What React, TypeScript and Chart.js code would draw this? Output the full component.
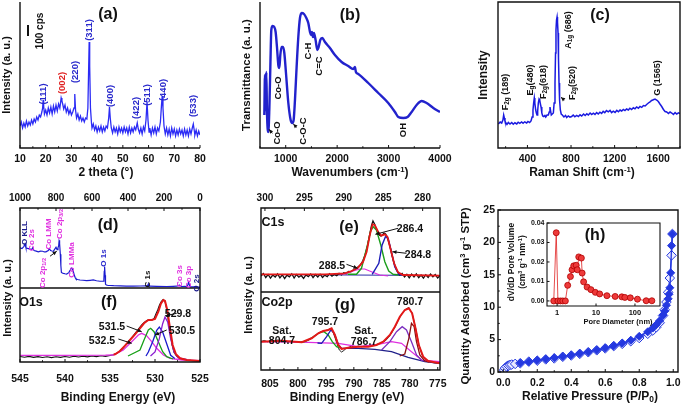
import React, { useEffect, useRef } from "react";
import { Chart, registerables } from "chart.js";
Chart.register(...registerables);

const FONT = '"Liberation Sans", Arial, Helvetica, sans-serif';
const INK = "#111";
type Pt = [number, number];

// ---------------- (a) XRD: 2theta (deg), intensity (a.u.)
const xrdScan: Pt[] = [
  [10,22],[10.5,26],[11,20],[11.5,25],[12,21],[12.5,27],[13,22],[13.5,26],[14,23],[14.5,28],[15,24],[15.5,29],[16,26],[16.5,31],[17,28],[17.5,33],[18,31],[18.5,36],
  [18.8,40],[19,48],[19.2,42],[19.5,34],[20,38],[20.5,33],[21,40],[21.5,35],[22,41],[22.5,34],[23,42],[23.5,36],[24,43],[24.5,37],[25,44],[25.5,40],
  [26,50],[26.3,47],[26.6,44],[27,39],[27.5,43],[28,36],[28.5,40],[29,34],[29.5,38],[30,33],[30.5,36],[31,40],[31.3,54],[31.6,38],[32,30],[32.5,34],
  [33,28],[33.5,32],[34,27],[34.5,30],[35,26],[35.5,30],[36,29],[36.4,40],[36.7,80],[36.9,106],[37.1,82],[37.4,40],[37.8,25],[38,20],[38.5,24],[39,18],
  [39.5,22],[40,16],[40.5,21],[41,17],[41.5,22],[42,16],[42.5,21],[43,17],[43.5,22],[44,20],[44.5,30],[44.8,41],[45.1,30],[45.5,20],[46,15],[46.5,21],
  [47,16],[47.5,20],[48,14],[48.5,21],[49,16],[49.5,20],[50,15],[50.5,21],[51,16],[51.5,20],[52,14],[52.5,21],[53,15],[53.5,20],[54,16],[54.5,21],
  [55,18],[55.6,25],[56,19],[56.5,15],[57,20],[57.5,14],[58,21],[58.5,17],[59,28],[59.4,46],[59.8,27],[60.2,16],[60.5,20],[61,13],[61.5,20],[62,15],
  [62.5,21],[63,14],[63.5,20],[64,17],[64.6,26],[65,42],[65.3,52],[65.6,40],[66,22],[66.5,14],[67,20],[67.5,13],[68,19],[68.5,12],[69,20],[69.5,14],
  [70,19],[70.5,12],[71,18],[71.5,13],[72,19],[72.5,14],[73,18],[73.5,12],[74,19],[74.5,13],[75,18],[75.5,12],[76,19],[76.5,14],[77,20],[77.4,24],
  [77.8,17],[78,13],[78.5,18],[79,12],[79.5,17],[80,13]
];
const xrdTicks = [10, 20, 30, 40, 50, 60, 70, 80];

// ---------------- (b) FTIR: wavenumber (cm-1), transmittance (a.u.)
const ftirSpectrum: Pt[] = [
  [584,33],[597,73],[610,38],[623,76],[636,35],[662,16],[681,38],[701,81],[720,118],[746,122],[778,121],[804,116],[830,101],[856,83],[876,80],
  [895,93],[921,101],[947,101],[973,95],[1005,75],[1051,45],[1096,28],[1128,25],[1154,28],[1180,48],[1212,81],[1245,111],[1277,130],[1310,135],
  [1355,134],[1401,130],[1439,125],[1472,116],[1491,113],[1510,116],[1530,111],[1549,115],[1581,108],[1614,98],[1640,101],[1672,108],[1711,110],
  [1763,106],[1860,100],[1957,93],[2087,86],[2216,82],[2313,79],[2346,81],[2365,76],[2411,74],[2605,65],[2800,55],[2994,45],[3124,36],[3189,31],
  [3286,30],[3370,31],[3448,36],[3545,43],[3643,47],[3740,45],[3870,40],[4000,36]
];
const ftirTicks = [1000, 2000, 3000, 4000];

// ---------------- (c) Raman: shift (cm-1), intensity
const ramanSpectrum: Pt[] = [
  [133,24],[150,26],[164,25],[175,28],[182,33],[188,30],[194,27],[203,25],[212,23.5],[225,25.5],[240,24],[256,25.5],[270,23.8],[285,25.2],[302,24],
  [315,25.8],[330,24.6],[347,26],[360,24.8],[375,26.2],[393,25],[405,26.5],[420,25.4],[433,27],[443,31],[451,38],[457,45],[463,50],[468,45],[476,38],
  [482,35],[488,33],[494,37],[500,45],[507,49],[513,48],[519,44],[525,41],[532,35],[540,32],[550,31.5],[560,32.5],[568,31],[580,33],[592,33],[600,36],
  [607,41],[613,37],[619,33],[628,34],[638,35],[645,45],[653,65],[658,95],[662,118],[667,128],[672,131],[676,126],[681,115],[685,90],[690,65],[695,48],
  [702,38],[710,34],[720,33],[735,31],[750,32.5],[760,30.5],[775,32],[790,30.8],[806,31.5],[820,33],[835,31.2],[852,32.6],[868,31.4],[883,33.2],[898,32],
  [915,34],[930,32.5],[945,34.2],[959,33],[975,35],[990,33.4],[1005,34.8],[1020,33.6],[1035,35.4],[1050,34],[1065,35.8],[1081,34.6],[1095,36.6],
  [1110,35.4],[1125,37.4],[1142,36.2],[1158,37.6],[1172,35.4],[1188,36.8],[1204,35.6],[1220,37.6],[1235,36.2],[1250,38],[1265,37],[1280,38.6],
  [1295,37.4],[1310,39],[1326,38],[1340,39.8],[1356,38.4],[1372,40.2],[1387,39.2],[1402,41],[1418,39.8],[1433,41.6],[1449,40.6],[1464,42.4],[1480,42],
  [1494,43.5],[1510,45],[1525,46.2],[1540,47.5],[1555,48.2],[1571,49],[1586,48],[1601,46.5],[1616,44],[1632,41.5],[1648,38.5],[1663,36.5],[1678,36],
  [1694,34.5],[1709,36],[1724,35],[1740,33.6],[1755,35.4],[1770,34],[1785,35.2],[1800,34.5]
];
const ramanTicks = [400, 800, 1200, 1600];

// ---------------- (d) XPS survey: binding energy (eV), intensity
const surveyScan: Pt[] = [
  [1000,39.7],[989,39],[978,41.3],[972,43.7],[967,39.7],[958,39.2],[948,38.7],[935,38],[930,39.7],[922,37],[910,36.5],[898,35.7],[886,36.4],[874,36.3],
  [865,35.6],[856,35.7],[843,37],[837,39],[830,37],[822,36.6],[815,36.3],[806,38.7],[800,40.3],[794,38],[789,39.7],[785,42],[783,46.3],[781,47.5],
  [779,44],[776,33.3],[773,22],[770,15],[765,14.4],[759,14],[750,13.6],[741,13.3],[734,14],[728,15],[722,17],[719,18.3],[715,19.3],[711,19],[707,17.5],
  [704,16],[698,12],[693,9.5],[689,8.3],[680,7.8],[667,7.3],[650,7],[630,6.7],[610,7],[593,7.3],[575,6.5],[556,6],[545,6],[537,6],[534,8],[532,16],
  [531,20.7],[529,21],[527,12],[525,3],[520,2.2],[510,1.7],[500,1.7],[480,1.5],[444,1.3],[410,1.1],[370,1],[330,1.2],[296,1.3],[290,2],[287,3.3],
  [284,1.5],[278,1],[240,0.9],[185,0.7],[150,0.9],[130,1],[120,1.6],[115,2.3],[110,1.4],[102,0.7],[85,0.8],[74,0.7],[68,2],[63,5],[59,2.5],[55,0.4],
  [35,0.3],[25,0.8],[19,0.3],[0,0]
];
const surveyTicks = [1000, 800, 600, 400, 200, 0];

// ---------------- (f) O1s: binding energy (eV), intensity
const o1sRaw: Pt[] = [
  [545,5.5],[544.5,4.8],[544,5.6],[543.5,4.6],[543,5.4],[542.5,4.5],[542,5.2],[541.5,4.4],[541,5.3],[540.5,4.6],[540,5.5],[539.5,4.7],[539,5.8],
  [538.5,5],[538,5.7],[537.5,5.1],[537,6],[536.5,5.4],[536,6.2],[535.5,5.6],[535,6.5],[534.6,7.2],[534.2,9],[533.9,11],[533.6,13.5],[533.3,16.5],
  [533,19.5],[532.7,23],[532.4,26.5],[532.1,30],[531.8,33.5],[531.5,37],[531.2,39.5],[530.9,41.5],[530.6,42.5],[530.3,42],[530.1,43.5],[529.9,48],
  [529.7,52],[529.5,57],[529.3,60.5],[529.1,62.5],[528.9,61],[528.7,53],[528.5,40],[528.3,28],[528.1,17],[527.9,10],[527.6,6],[527.2,3.5],[526.8,2.5],
  [526.4,2],[526,1.6],[525.5,1.3],[525,1.2]
];
const o1sFit: Pt[] = [
  [534.6,7.4],[534.44,7.7],[533.89,11],[533.33,16.3],[532.78,22],[532.22,27.7],[531.67,33.7],[531.22,38.7],[530.74,42],[530.37,42],[530.0,43],
  [529.63,50.3],[529.33,58.7],[529.07,62],[528.89,61],[528.63,51.7],[528.33,33.7],[528.04,17],[527.67,7.7],[527.22,3.7],[526.48,2],[525,1]
];
const o1sPeak5325: Pt[] = [[545,6.7],[540,6.7],[535.5,6.8],[534.63,7],[533.52,12],[532.59,20.3],[531.85,27],[531.48,28.7],[530.93,26.3],[530.37,20.3],[529.81,13.7],[529.07,7],[528.33,3.7],[527,2],[525,1.3]];
const o1sPeak5315: Pt[] = [[533,6],[531.67,12],[531.22,22],[530.74,32],[530.48,33.7],[530.11,30.3],[529.63,20.3],[529.15,10.3],[528.7,5.3],[528,3]];
const o1sPeak5305: Pt[] = [[531,6],[530.74,10],[530.26,20.3],[529.81,31.7],[529.52,35],[529.15,30],[528.7,18.3],[528.26,6.7],[527.8,3.5]];
const o1sPeak5298: Pt[] = [[530.5,6],[530.0,10],[529.52,23.3],[529.15,38.3],[528.89,45],[528.59,40],[528.26,23.3],[527.89,10],[527.41,4],[526.5,2.5]];
const o1sTicks = [545, 540, 535, 530, 525];

// ---------------- (e) C1s
const c1sRaw: Pt[] = [
  [300.5,16],[300.2,18.5],[299.9,14.5],[299.6,17.5],[299.3,13.8],[299,17],[298.7,15],[298.4,18],[298.1,14.2],[297.8,17.2],[297.5,13.5],[297.2,16.8],
  [296.9,15.2],[296.6,18.2],[296.3,14],[296,17.5],[295.7,14.8],[295.4,16.5],[295.1,13.6],[294.8,17],[294.5,15.4],[294.2,18],[293.9,14.4],[293.6,17.4],
  [293.3,15],[293,17.8],[292.7,14.6],[292.4,16.9],[292.1,15.3],[291.8,18.3],[291.5,15.8],[291.2,17.6],[290.9,16.4],[290.6,18.6],[290.3,17],[290,19.2],
  [289.7,18.3],[289.4,20.5],[289.1,20.2],[288.8,22],[288.5,23],[288.2,25],[287.9,27],[287.6,31],[287.3,37],[287,46],[286.7,58],[286.5,66],[286.3,71],
  [286.1,68],[285.9,63],[285.7,60],[285.5,57],[285.3,56],[285.1,57],[284.9,59],[284.7,58],[284.5,55],[284.3,50],[284.1,44],[283.9,37],[283.7,31],
  [283.5,26],[283.3,22],[283.1,19.5],[282.9,17],[282.6,18.5],[282.3,15],[282,17.6],[281.7,14.2],[281.4,17.8],[281.1,15],[280.8,18.2],[280.5,14.4],
  [280.2,17],[279.9,13.8],[279.6,17.3],[279.3,14.6],[279,18],[278.7,15.2],[278.4,17.4],[278.1,14],[277.8,16.5]
];
const c1sFit: Pt[] = [
  [300.5,17.7],[296.6,17.7],[292.4,17.7],[289.9,18.7],[289.0,21],[288.2,24.3],[287.55,30.3],[287.1,40.3],[286.7,57],[286.36,67.7],[286.07,67],
  [285.65,60.3],[285.23,56.3],[284.8,57.7],[284.47,55.3],[284.04,42],[283.62,28.7],[283.12,19.7],[282.48,17],[277.84,16.3]
];
const c1sPeak2864: Pt[] = [[289.5,17.7],[288.39,17.7],[287.76,23.7],[287.1,43.7],[286.62,60.3],[286.28,65.3],[285.86,62],[285.31,47],[284.8,30.3],[284.3,21],[283.75,17.7],[283,17]];
const c1sPeak2848: Pt[] = [[286.4,17.7],[285.56,28.7],[285.14,47],[284.72,55.3],[284.38,53.7],[283.96,40.3],[283.54,25.3],[283.03,17.7],[282.5,17]];
const c1sPeak2885: Pt[] = [[290.5,17.8],[289.9,18],[288.81,21],[287.97,23],[287.34,23],[286.49,20.3],[285.44,17],[284.38,16]];
const c1sBackground: Pt[] = [[300.5,17.5],[277.84,16.5]];
const c1sTicks = [300, 295, 290, 285, 280];

// ---------------- (g) Co2p
const co2pRaw: Pt[] = [
  [806.6,28.5],[806,29.5],[805.4,28.2],[804.8,29.8],[804.2,28.8],[803.6,30],[803,29.2],[802.4,29.6],[801.8,28.4],[801.2,28.8],[800.6,27.8],[800,28.4],
  [799.4,27.5],[798.8,28.6],[798.2,29.5],[797.6,31.5],[797,33.8],[796.4,36.5],[795.8,38.4],[795.2,39.2],[794.6,40.2],[794.2,41.5],[793.8,39],[793.4,33],
  [793,26],[792.6,20],[792.2,18],[791.8,19.5],[791.4,21.5],[791,22.5],[790.4,23.8],[789.8,22.8],[789.2,24],[788.6,23.2],[788,24.2],[787.4,23.6],
  [786.8,24.8],[786.2,25.2],[785.6,26.2],[785,27.4],[784.4,29],[783.8,32.5],[783.2,37.5],[782.6,43.5],[782,50.5],[781.4,56.5],[780.8,60.5],[780.2,62.5],
  [779.6,57],[779,43],[778.4,26],[777.8,15],[777.2,10.5],[776.6,8.5],[776,7.5],[775.4,7],[774.6,6.8]
];
const co2pFit: Pt[] = [
  [806.6,28.3],[802.9,29.3],[799.3,27.7],[797.55,31.7],[796.36,36.7],[795.47,39],[794.58,40],[793.98,41.7],[793.39,35],[792.79,25],[792.2,21],[791.0,22.3],
  [789.22,23.3],[787.43,23.3],[785.95,25],[784.75,28.3],[783.56,35],[782.67,43.3],[781.78,53.3],[780.89,60],[780.17,61.7],[779.58,56.7],[778.98,41.7],
  [778.39,25],[777.61,13.3],[776.72,9],[774.64,6.7]
];
const co2pPeak797: Pt[] = [[799.5,28],[798.74,28.3],[797.25,33.3],[796.06,37.7],[795.35,38.3],[794.58,35],[793.86,28.3],[793.09,23.3],[792.5,22]];
const co2pPeak7957: Pt[] = [[796.5,27],[795.77,26.7],[794.87,33.3],[794.1,40],[793.5,36.7],[792.79,25.7],[792.2,21.7]];
const co2pPeak781: Pt[] = [[785.05,20],[783.56,28.3],[782.37,38.3],[781.36,43.3],[780.59,40],[779.7,28.3],[778.8,15],[777.91,10],[777,8.5]];
const co2pPeak7795: Pt[] = [[781.8,14],[780.89,16],[780.17,31.7],[779.7,46.7],[779.22,43.3],[778.8,28.3],[778.21,15],[777.31,9],[776.5,8]];
const co2pSatellite: Pt[] = [[806.6,28.3],[798.15,27.7],[792.79,26.7],[789.22,23.3],[785.65,25.7],[783.27,28.3],[781.48,26.7],[779.7,18.3],[777.91,10],[774.64,8.3]];
const co2pBackground: Pt[] = [[792.2,21.7],[789.22,21.7],[786.24,20.7],[783.27,18.3],[780.3,12.7],[777.31,8.3],[774.64,6.7]];
const co2pTicks = [805, 800, 795, 790, 785, 780, 775];

// ---------------- (h) N2 isotherm and pore size distribution
const isoAdsorption: Pt[] = [
  [0.005,0.3],[0.01,0.6],[0.02,0.85],[0.03,1.0],[0.04,1.1],[0.05,1.15],[0.07,1.25],[0.1,1.35],[0.15,1.6],[0.2,1.75],[0.25,1.95],[0.3,2.1],[0.35,2.35],
  [0.4,2.55],[0.45,2.8],[0.5,3.05],[0.55,3.35],[0.6,3.65],[0.65,4.0],[0.7,4.35],[0.75,4.75],[0.8,5.25],[0.85,5.9],[0.88,6.4],[0.9,6.9],[0.92,7.6],
  [0.94,8.7],[0.95,9.6],[0.96,10.8],[0.97,12.3],[0.98,14.5],[0.99,18.0],[0.995,21.3]
];
const isoDesorption: Pt[] = [
  [0.995,21.3],[0.99,19.5],[0.985,15.3],[0.98,13.0],[0.975,12.0],[0.97,11.3],[0.96,10.3],[0.95,9.4],[0.94,8.8],[0.92,7.9],[0.9,7.3],[0.88,6.8],
  [0.85,6.2],[0.8,5.5],[0.75,4.9],[0.7,4.45],[0.65,4.05],[0.6,3.7],[0.55,3.4],[0.5,3.1],[0.45,2.85],[0.4,2.6],[0.35,2.4],[0.3,2.2],[0.25,2.0],
  [0.2,1.8],[0.15,1.6],[0.1,1.4]
];
const isoXTicks = [0, 0.2, 0.4, 0.6, 0.8, 1.0];
const isoYTicks = [0, 5, 10, 15, 20, 25];
const poreDistribution: Pt[] = [
  [0.82,0],[0.95,0.035],[1.05,0],[1.22,0],[1.4,0],[1.63,0],[1.87,0.008],[2.2,0.0125],[2.42,0.016],[2.67,0.018],[3.1,0.0183],[3.3,0.016],[3.6,0.0226],
  [4.2,0.022],[4.4,0.0143],[4.8,0.0098],[5.9,0.0071],[7.4,0.0058],[9.6,0.0044],[12.4,0.0036],[19,0.0027],[31,0.0023],[46,0.0021],[55,0.0018],
  [76,0.0016],[116,0.0009],[194,0.0001],[272,0.0001]
];
const poreXTicks = [1, 10, 100];
const poreYTicks = [0, 0.01, 0.02, 0.03, 0.04];

// ---------------- helpers
const xy = (pts: Pt[]) => pts.map(([x, y]) => ({ x, y }));
const line = (pts: Pt[], color: string, width: number, extra: any = {}) => ({
  data: xy(pts), borderColor: color, backgroundColor: color, borderWidth: width, pointRadius: 0, tension: 0, fill: false, ...extra,
});
const tickFont = (size: number) => ({ family: FONT, size, weight: "bold" as const });

function axisX(o: any) {
  return {
    type: o.type ?? "linear", position: o.position ?? "bottom", min: o.min, max: o.max, reverse: !!o.reverse,
    grid: { display: false, drawTicks: false }, border: { display: false },
    ticks: { font: tickFont(o.font ?? 10.5), color: INK, padding: o.pad, autoSkip: false, maxRotation: 0, minRotation: 0, includeBounds: false,
      callback: (v: any) => (o.fmt ? o.fmt(Number(v)) : String(v)) },
    afterBuildTicks: (s: any) => { s.ticks = o.ticks.map((value: number) => ({ value })); },
    afterFit: (s: any) => { s.height = o.size; s.paddingLeft = 0; s.paddingRight = 0; },
  };
}
function axisY(o: any) {
  return {
    type: o.type ?? "linear", position: "left", min: o.min, max: o.max,
    grid: { display: false, drawTicks: false }, border: { display: false },
    ticks: { font: tickFont(o.font ?? 10.5), color: INK, padding: o.pad, autoSkip: false, includeBounds: false,
      callback: (v: any) => (o.fmt ? o.fmt(Number(v)) : String(v)) },
    afterBuildTicks: (s: any) => { s.ticks = o.ticks.map((value: number) => ({ value })); },
    afterFit: (s: any) => { s.width = o.size; s.paddingTop = 0; s.paddingBottom = 0; },
  };
}
const hiddenY = (min: number, max: number) => ({ type: "linear", display: false, min, max });

const framePlugin = {
  id: "frame",
  afterDatasetsDraw(chart: any, _a: any, o: any) {
    const { ctx, chartArea: a } = chart;
    ctx.save();
    ctx.strokeStyle = INK;
    ctx.fillStyle = INK;
    ctx.lineWidth = o.width ?? 1.4;
    ctx.beginPath();
    if (o.box) ctx.rect(a.left, a.top, a.right - a.left, a.bottom - a.top);
    else { ctx.moveTo(a.left, a.top); ctx.lineTo(a.left, a.bottom); ctx.lineTo(a.right, a.bottom); }
    ctx.stroke();
    ctx.lineWidth = 1;
    for (const m of o.marks ?? []) {
      const s = chart.scales[m.axis];
      const vals: number[] = s.ticks.map((t: any) => t.value);
      const list: [number, number][] = vals.map((v) => [v, m.len]);
      if (m.minor && vals.length > 1) {
        const step = vals[1] - vals[0];
        [vals[0] - step / 2, ...vals.map((v) => v + step / 2)].forEach((v) => list.push([v, m.len * 0.6]));
      }
      for (const [v, len] of list) {
        const p = s.getPixelForValue(v);
        ctx.beginPath();
        if (m.side === "bottom" || m.side === "top") {
          if (p < a.left - 0.5 || p > a.right + 0.5) continue;
          const y0 = m.side === "bottom" ? a.bottom : a.top;
          const d = m.side === "bottom" ? -1 : 1;
          ctx.moveTo(p, y0); ctx.lineTo(p, y0 + d * len);
        } else {
          if (p < a.top - 0.5 || p > a.bottom + 0.5) continue;
          ctx.moveTo(a.left, p); ctx.lineTo(a.left + len, p);
        }
        ctx.stroke();
      }
    }
    for (const [x1, y1, x2, y2] of o.arrows ?? []) {
      const X1 = chart.scales.x.getPixelForValue(x1), Y1 = chart.scales.y.getPixelForValue(y1);
      const X2 = chart.scales.x.getPixelForValue(x2), Y2 = chart.scales.y.getPixelForValue(y2);
      const ang = Math.atan2(Y2 - Y1, X2 - X1);
      ctx.beginPath(); ctx.moveTo(X1, Y1); ctx.lineTo(X2, Y2); ctx.stroke();
      ctx.beginPath();
      ctx.moveTo(X2, Y2);
      ctx.lineTo(X2 - 4.5 * Math.cos(ang - 0.45), Y2 - 4.5 * Math.sin(ang - 0.45));
      ctx.lineTo(X2 - 4.5 * Math.cos(ang + 0.45), Y2 - 4.5 * Math.sin(ang + 0.45));
      ctx.closePath(); ctx.fill();
    }
    ctx.restore();
  },
};

function cfg(p: any) {
  return {
    type: "line",
    data: { datasets: p.datasets },
    options: {
      responsive: false, maintainAspectRatio: false, animation: false, devicePixelRatio: 1, events: [],
      layout: { padding: { left: p.pad[0], top: p.pad[1], right: p.pad[2], bottom: p.pad[3] } },
      scales: { x: p.x, y: p.y },
      plugins: { legend: { display: false }, tooltip: { enabled: false }, frame: p.frame },
    },
    plugins: [framePlugin],
  };
}

const MAG = "#e030e0";
const GRN = "#17a017";
const RED = "#e41818";

const panels: { box: number[]; config: any }[] = [
  { // (a)
    box: [0, 0, 230, 190],
    config: cfg({
      pad: [20, 2, 30, 0],
      x: axisX({ min: 10, max: 80, ticks: xrdTicks, size: 42, pad: 5 }),
      y: hiddenY(0, 146),
      datasets: [line(xrdScan, "#2b2bf5", 1.3)],
      frame: { box: false, marks: [{ axis: "x", side: "bottom", len: 3, minor: true }] },
    }),
  },
  { // (b)
    box: [230, 0, 225, 190],
    config: cfg({
      pad: [30, 2, 15, 0],
      x: axisX({ min: 500, max: 4000, ticks: ftirTicks, size: 42, pad: 5 }),
      y: hiddenY(0, 146),
      datasets: [line(ftirSpectrum, "#2222cc", 2.4, { cubicInterpolationMode: "monotone" })],
      frame: { box: false, marks: [{ axis: "x", side: "bottom", len: 3, minor: true }], arrows: [[740, 14.7, 675, 18.7], [1212, 20.7, 1147, 24]] },
    }),
  },
  { // (c)
    box: [455, 0, 230, 190],
    config: cfg({
      pad: [43, 2, 5, 0],
      x: axisX({ min: 130, max: 1800, ticks: ramanTicks, size: 42, pad: 5 }),
      y: hiddenY(0, 146),
      datasets: [line(ramanSpectrum, "#1a1ae0", 1.5)],
      frame: { box: true, marks: [{ axis: "x", side: "bottom", len: 3, minor: true }], arrows: [[738, 48, 708, 50.7]] },
    }),
  },
  { // (d)
    box: [0, 188, 230, 100],
    config: cfg({
      pad: [20, 0, 30, 0],
      x: axisX({ min: 0, max: 1000, reverse: true, position: "top", ticks: surveyTicks, size: 20, pad: 4, font: 10 }),
      y: hiddenY(-0.8, 80),
      datasets: [line(surveyScan, "#1c1cd0", 1.2)],
      frame: { box: true, marks: [{ axis: "x", side: "top", len: 3, minor: true }], arrows: [[833, 31.3, 796, 36.3]] },
    }),
  },
  { // (f)
    box: [0, 288, 230, 112],
    config: cfg({
      pad: [20, 0, 30, 0],
      x: axisX({ min: 525, max: 545, reverse: true, ticks: o1sTicks, size: 38, pad: 11 }),
      y: hiddenY(0, 74),
      datasets: [
        line(o1sFit, RED, 2),
        line(o1sPeak5298, "#8a1ad0", 1.3),
        line(o1sPeak5305, "#1a1acc", 1.3),
        line(o1sPeak5315, GRN, 1.3),
        line(o1sPeak5325, MAG, 1.3),
        line(o1sRaw, "#111", 1.1),
      ],
      frame: { box: true, marks: [{ axis: "x", side: "bottom", len: 3, minor: true }],
        arrows: [[527.59, 48.7, 528.81, 46.3], [533.15, 36, 531.48, 30.3], [528.7, 32, 530.0, 27], [534.07, 23, 532.59, 18.7]] },
    }),
  },
  { // (e)
    box: [230, 188, 225, 104],
    config: cfg({
      pad: [31, 0, 15, 0],
      x: axisX({ min: 277.8, max: 300.5, reverse: true, position: "top", ticks: c1sTicks, size: 20, pad: 4, font: 10 }),
      y: hiddenY(0, 84),
      datasets: [
        line(c1sFit, RED, 1.8),
        line(c1sPeak2848, "#1c1cb8", 1.4),
        line(c1sPeak2864, "#1b9e1b", 1.4),
        line(c1sPeak2885, MAG, 1.2),
        line(c1sRaw, "#111", 1.3),
        line(c1sBackground, "#2a2aa8", 1),
      ],
      frame: { box: true, marks: [{ axis: "x", side: "top", len: 3, minor: true }],
        arrows: [[283.12, 63.7, 285.99, 57.7], [282.06, 38.7, 283.83, 40.3], [289.66, 27.7, 288.26, 23.7]] },
    }),
  },
  { // (g)
    box: [230, 292, 225, 108],
    config: cfg({
      pad: [31, 0, 15, 0],
      x: axisX({ min: 774.6, max: 806.6, reverse: true, ticks: co2pTicks, size: 30, pad: 8 }),
      y: hiddenY(0, 78),
      datasets: [
        line(co2pFit, RED, 2),
        line(co2pPeak7795, "#8b1010", 1.3),
        line(co2pPeak781, "#7b2fbf", 1.3),
        line(co2pPeak7957, "#1c1cb8", 1.3),
        line(co2pPeak797, GRN, 1.3),
        line(co2pSatellite, MAG, 1.2),
        line(co2pBackground, "#20208a", 1.2),
        line(co2pRaw, "#222", 1),
      ],
      frame: { box: true, marks: [{ axis: "x", side: "bottom", len: 3, minor: true }] },
    }),
  },
  { // (h) main
    box: [455, 200, 230, 200],
    config: cfg({
      pad: [0, 10, 7, 0],
      x: axisX({ min: -0.031, max: 1.028, ticks: isoXTicks, size: 28, pad: 4.5, fmt: (v: number) => v.toFixed(1) }),
      y: axisY({ min: 0, max: 25, ticks: isoYTicks, size: 43, pad: 3 }),
      datasets: [
        line(isoDesorption, "#2438e0", 1.3, { pointRadius: 4, pointStyle: "rectRot", pointBackgroundColor: "#2438e0", pointBorderColor: "#2438e0", pointBorderWidth: 1 }),
        line(isoAdsorption, "#2438e0", 1.3, { pointRadius: 4.8, pointStyle: "rectRot", pointBackgroundColor: "rgba(235,235,255,0.9)", pointBorderColor: "#2438e0", pointBorderWidth: 1 }),
      ],
      frame: { box: true, marks: [{ axis: "x", side: "bottom", len: 3, minor: true }, { axis: "y", side: "left", len: 3, minor: true }] },
    }),
  },
  { // (h) inset
    box: [515, 216, 155, 104],
    config: cfg({
      pad: [0, 7, 10, 0],
      x: axisX({ type: "logarithmic", min: 0.55, max: 440, ticks: poreXTicks, size: 14, pad: 2.5, font: 7.5 }),
      y: axisY({ min: -0.0026, max: 0.04, ticks: poreYTicks, size: 32, pad: 2.5, font: 7, fmt: (v: number) => v.toFixed(2) }),
      datasets: [
        line(poreDistribution, "#e02020", 0.8, { pointRadius: 3, pointStyle: "circle", pointBackgroundColor: "#ee3a3a", pointBorderColor: "#b00000", pointBorderWidth: 0.8 }),
      ],
      frame: { box: true, width: 1.1, marks: [{ axis: "x", side: "bottom", len: 2.5 }, { axis: "y", side: "left", len: 2.5 }] },
    }),
  },
];

// ---------------- text helpers
function L({ x, y, s = 10, r = false, c = INK, children }: any) {
  return (
    <div style={{ position: "absolute", left: x, top: y, transform: `translate(-50%, -50%)${r ? " rotate(-90deg)" : ""}`,
      fontFamily: FONT, fontWeight: 700, fontSize: s, color: c, whiteSpace: "nowrap", lineHeight: 1 }}>{children}</div>
  );
}
const Sub = ({ children }: any) => <span style={{ fontSize: "0.7em", verticalAlign: "-0.25em", lineHeight: 0 }}>{children}</span>;
const Sup = ({ children }: any) => <span style={{ fontSize: "0.65em", verticalAlign: "0.55em", lineHeight: 0 }}>{children}</span>;

const LBL = "#2a2acc";
const NAVY = "#1a1a8c";

export default function App() {
  const refs = useRef<(HTMLCanvasElement | null)[]>([]);
  useEffect(() => {
    const charts = panels.map((p, i) => new Chart(refs.current[i] as HTMLCanvasElement, p.config));
    return () => charts.forEach((c) => c.destroy());
  }, []);
  return (
    <div style={{ position: "fixed", left: 0, top: 0, width: 685, height: 408, background: "#fff", overflow: "hidden" }}>
      {panels.map((p, i) => (
        <canvas key={i} ref={(el) => { refs.current[i] = el; }} width={p.box[2]} height={p.box[3]}
          style={{ position: "absolute", left: p.box[0], top: p.box[1], width: p.box[2], height: p.box[3] }} />
      ))}

      {/* (a) */}
      <L x={108} y={14} s={16}>(a)</L>
      <div style={{ position: "absolute", left: 27, top: 25, width: 2, height: 11, background: INK }} />
      <L x={40} y={31} s={10} r>100 cps</L>
      <L x={6} y={75} s={11} r>Intensity (a. u.)</L>
      <L x={106} y={172} s={12}>2 theta (°)</L>
      <L x={43} y={94} s={9.5} r c={LBL}>(111)</L>
      <L x={62} y={83} s={9.5} r c="#e02424">(002)</L>
      <L x={75} y={72} s={9.5} r c={LBL}>(220)</L>
      <L x={89} y={30} s={9.5} r c={LBL}>(311)</L>
      <L x={110} y={96} s={9.5} r c={LBL}>(400)</L>
      <L x={136} y={108} s={9.5} r c={LBL}>(422)</L>
      <L x={147} y={95} s={9.5} r c={LBL}>(511)</L>
      <L x={163} y={90} s={9.5} r c={LBL}>(440)</L>
      <L x={193} y={106} s={9.5} r c={LBL}>(533)</L>

      {/* (b) */}
      <L x={350} y={15} s={16}>(b)</L>
      <L x={247} y={75} s={11.5} r>Transmittance (a. u.)</L>
      <L x={350} y={172} s={12}>Wavenumbers (cm<Sup>-1</Sup>)</L>
      <L x={278} y={88} s={9.5} r>Co-O</L>
      <L x={277} y={133} s={9.5} r>Co-O</L>
      <L x={303} y={131} s={9.5} r>C-O-C</L>
      <L x={308} y={51} s={9.5} r>C-H</L>
      <L x={319} y={66} s={9.5} r>C=C</L>
      <L x={403} y={130} s={9.5} r>OH</L>

      {/* (c) */}
      <L x={600} y={15} s={16}>(c)</L>
      <L x={483} y={75} s={12} r>Intensity</L>
      <L x={582} y={172} s={12}>Raman Shift (cm<Sup>-1</Sup>)</L>
      <L x={505} y={92} s={9} r>F<Sub>2g</Sub> (189)</L>
      <L x={530} y={80} s={9} r>E<Sub>g</Sub>(480)</L>
      <L x={543} y={82} s={9} r>F<Sub>2g</Sub>(618)</L>
      <L x={568} y={30} s={9} r>A<Sub>1g</Sub> (686)</L>
      <L x={572} y={83} s={9} r>F<Sub>2g</Sub>(520)</L>
      <L x={657} y={78} s={9} r>G (1565)</L>

      {/* (d) */}
      <L x={108} y={225} s={16}>(d)</L>
      <L x={25} y={233} s={8} r c={NAVY}>O KLL</L>
      <L x={32} y={240} s={8} r c={MAG}>Co 2s</L>
      <L x={49} y={234} s={8} r c={MAG}>Co LMM</L>
      <L x={60} y={224} s={8} r c={MAG}>Co 2p<Sub>3/2</Sub></L>
      <L x={43} y={273} s={8} r c={MAG}>Co 2p<Sub>1/2</Sub></L>
      <L x={72} y={260} s={8} r c={MAG}>Co LMMa</L>
      <L x={104} y={258} s={8} r c={LBL}>O 1s</L>
      <L x={148} y={279} s={8} r>C 1s</L>
      <L x={180} y={276} s={8} r c={MAG}>Co 3s</L>
      <L x={189} y={277} s={8} r c={MAG}>Co 3p</L>
      <L x={197} y={283} s={8} r c={NAVY}>O 2s</L>

      {/* (f) */}
      <L x={31} y={302} s={12.5}>O1s</L>
      <L x={109} y={302} s={16}>(f)</L>
      <L x={178} y={313} s={10.5}>529.8</L>
      <L x={112} y={326} s={10.5}>531.5</L>
      <L x={182} y={330} s={10.5}>530.5</L>
      <L x={102} y={340} s={10.5}>532.5</L>
      <L x={7} y={298} s={11} r>Intensity (a. u.)</L>
      <L x={118} y={397} s={12}>Binding Energy (eV)</L>

      {/* (e) */}
      <L x={273} y={222} s={12.5}>C1s</L>
      <L x={349} y={227} s={16}>(e)</L>
      <L x={410} y={228} s={10.5}>286.4</L>
      <L x={418} y={254} s={10.5}>284.8</L>
      <L x={332} y={265} s={10.5}>288.5</L>

      {/* (g) */}
      <L x={277} y={302} s={12.5}>Co2p</L>
      <L x={345} y={305} s={16}>(g)</L>
      <L x={410} y={301} s={10.5}>780.7</L>
      <L x={325} y={321} s={10.5}>795.7</L>
      <L x={282} y={330} s={10.5}>Sat.</L>
      <L x={282} y={340} s={10.5}>804.7</L>
      <L x={364} y={330} s={10.5}>Sat.</L>
      <L x={364} y={341} s={10.5}>786.7</L>
      <L x={248} y={295} s={11} r>Intensity (a. u.)</L>
      <L x={347} y={397} s={12}>Binding Energy (eV)</L>

      {/* (h) */}
      <L x={466} y={296} s={11.5} r>Quantity Adsorbed (cm<Sup>3</Sup> g<Sup>-1</Sup> STP)</L>
      <L x={590} y={396} s={12}>Relative Pressure (P/P<Sub>0</Sub>)</L>
      <L x={595} y={235} s={16}>(h)</L>
      <L x={511} y={262} s={8.5} r>dV/dD Pore Volume</L>
      <L x={522} y={262} s={8.5} r>(cm<Sup>3</Sup> g<Sup>-1</Sup> nm<Sup>-1</Sup>)</L>
      <L x={618} y={322} s={7.5}>Pore Diameter (nm)</L>
    </div>
  );
}
